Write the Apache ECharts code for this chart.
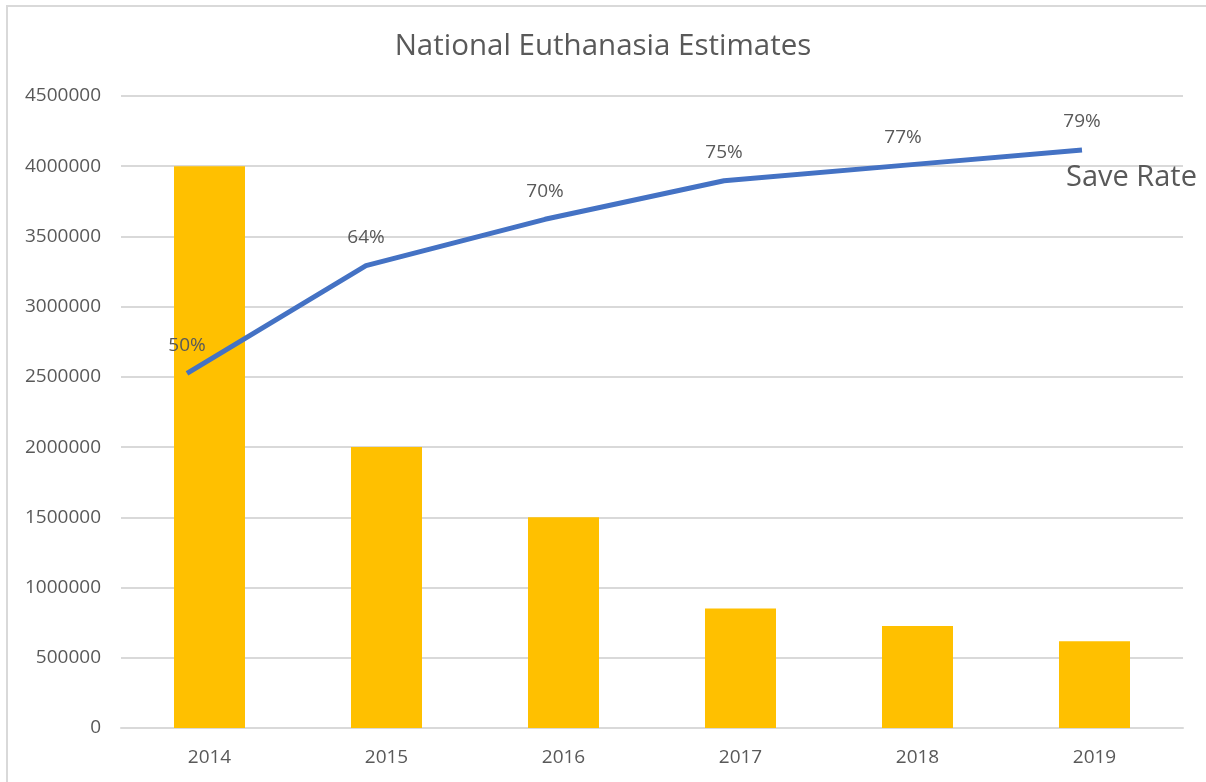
<!DOCTYPE html>
<html>
<head>
<meta charset="utf-8">
<script src="https://cdn.jsdelivr.net/npm/echarts@6/dist/echarts.min.js"></script>
<style>
html,body{margin:0;padding:0;background:#fff;}
#chart{width:1206px;height:782px;}
</style>
</head>
<body>
<div id="chart"></div>
<script>
const years = ['2014','2015','2016','2017','2018','2019'];
const euthanasia = [4000000, 2000000, 1500000, 850000, 727000, 618000];
const saveRate = [50, 64, 70, 75, 77, 79];
const yTicks = {min: 0, max: 4500000, interval: 500000};

const txt = '#595959';
const font = 'Open Sans';
const chart = echarts.init(document.getElementById('chart'));
chart.setOption({
  backgroundColor: '#fff',
  animation: false,
  textStyle: {fontFamily: font},
  title: {
    text: 'National Euthanasia Estimates',
    left: 'center', top: 27,
    textStyle: {fontFamily: font, fontWeight: 'normal', fontSize: 29.5, color: txt}
  },
  graphic: [{
    type: 'rect', silent: true, z: -1,
    shape: {x: 7, y: 6, width: 1400, height: 1000},
    style: {fill: 'none', stroke: '#d9d9d9', lineWidth: 2}
  }],
  grid: [
    {left: 121, right: 23, top: 96, bottom: 54},
    {left: 97.5, right: 34.5, top: 96, bottom: 54}
  ],
  xAxis: [
    {type: 'category', gridIndex: 0, data: years,
     axisLine: {lineStyle: {color: '#d9d9d9', width: 2}},
     axisTick: {show: false},
     axisLabel: {color: txt, fontSize: 19, margin: 20, fontFamily: font}},
    {type: 'category', gridIndex: 1, data: years, show: false}
  ],
  yAxis: [
    {type: 'value', gridIndex: 0, min: yTicks.min, max: yTicks.max, interval: yTicks.interval,
     axisLine: {show: false}, axisTick: {show: false},
     splitLine: {lineStyle: {color: '#d9d9d9', width: 2}},
     axisLabel: {color: txt, fontSize: 19, margin: 20, fontFamily: font,
                 formatter: v => String(v)}},
    {type: 'value', gridIndex: 1, min: 4, max: 86, show: false, splitLine: {show: false}}
  ],
  series: [
    {name: 'Euthanasia', type: 'bar', xAxisIndex: 0, yAxisIndex: 0,
     data: euthanasia, barWidth: 71, itemStyle: {color: '#FFC000'}},
    {name: 'Save Rate', type: 'line', xAxisIndex: 1, yAxisIndex: 1,
     data: saveRate, symbol: 'circle', symbolSize: 1, showSymbol: true, z: 5,
     itemStyle: {color: 'rgba(0,0,0,0)'},
     lineStyle: {color: '#4472C4', width: 5},
     label: {show: true, position: 'top', distance: 18, formatter: '{c}%',
             color: txt, fontSize: 19, fontFamily: font},
     endLabel: {show: true, formatter: '{a}', distance: 0, offset: [-16, 28],
                color: txt, fontSize: 29, fontFamily: font}}
  ]
});
</script>
</body>
</html>
